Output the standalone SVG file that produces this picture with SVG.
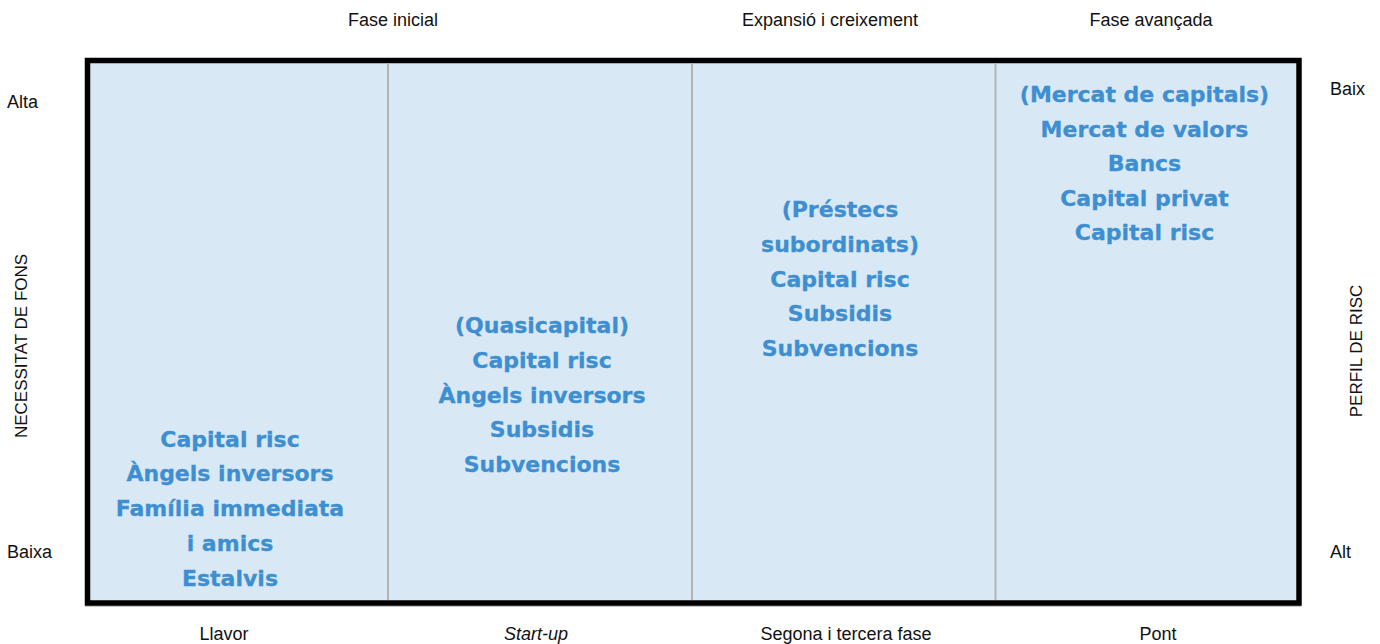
<svg xmlns="http://www.w3.org/2000/svg" width="1380" height="644" viewBox="0 0 1380 644">
<style>
.lbl{font-family:"Liberation Sans",Arial,sans-serif;font-size:18px;fill:#111}
.c{text-anchor:middle}
.b{font-family:"DejaVu Sans",sans-serif;font-weight:bold;font-size:22px;fill:#3d8fd1;stroke:#3d8fd1;stroke-width:0.3px;text-anchor:middle}
.div{stroke:#b4b4b4;stroke-width:2}
</style>
<rect width="1380" height="644" fill="#fff"/>
<g id="frame">
<rect x="86" y="61" width="1214" height="545" fill="none" stroke="#c8c8c8" stroke-width="2"/>
<rect x="87.5" y="60.5" width="1211.5" height="542.5" fill="#d9e8f5" stroke="#000" stroke-width="5.5"/>
</g>
<g id="dividers">
<line class="div" x1="388" y1="63" x2="388" y2="600"/>
<line class="div" x1="692" y1="63" x2="692" y2="600"/>
<line class="div" x1="995.5" y1="63" x2="995.5" y2="600"/>
</g>
<g id="top-labels">
<text class="lbl c" x="393" y="26">Fase inicial</text>
<text class="lbl c" x="830" y="26">Expansió i creixement</text>
<text class="lbl c" x="1151" y="26">Fase avançada</text>
</g>
<g id="bottom-labels">
<text class="lbl c" x="224" y="640">Llavor</text>
<text class="lbl c" x="536" y="640" font-style="italic">Start-up</text>
<text class="lbl c" x="846" y="640">Segona i tercera fase</text>
<text class="lbl c" x="1158" y="640">Pont</text>
</g>
<g id="side-labels">
<text class="lbl" x="7" y="108">Alta</text>
<text class="lbl" x="7" y="558">Baixa</text>
<text class="lbl" x="1330" y="95">Baix</text>
<text class="lbl" x="1330" y="558">Alt</text>
<text class="lbl c" transform="translate(26.5,346) rotate(-90)" style="font-size:17px">NECESSITAT DE FONS</text>
<text class="lbl c" transform="translate(1362,351) rotate(-90)" style="font-size:17px">PERFIL DE RISC</text>
</g>
<g id="col-llavor">
<text class="b" x="230" y="446.5">Capital risc</text>
<text class="b" x="230" y="481.3">Àngels inversors</text>
<text class="b" x="230" y="516">Família immediata</text>
<text class="b" x="230" y="550.7">i amics</text>
<text class="b" x="230" y="585.5">Estalvis</text>
</g>
<g id="col-startup">
<text class="b" x="542" y="333">(Quasicapital)</text>
<text class="b" x="542" y="367.8">Capital risc</text>
<text class="b" x="542" y="402.5">Àngels inversors</text>
<text class="b" x="542" y="437.2">Subsidis</text>
<text class="b" x="542" y="472">Subvencions</text>
</g>
<g id="col-segona">
<text class="b" x="840" y="217">(Préstecs</text>
<text class="b" x="840" y="251.8">subordinats)</text>
<text class="b" x="840" y="286.5">Capital risc</text>
<text class="b" x="840" y="321.2">Subsidis</text>
<text class="b" x="840" y="356">Subvencions</text>
</g>
<g id="col-pont">
<text class="b" x="1144.5" y="102">(Mercat de capitals)</text>
<text class="b" x="1144.5" y="136.5">Mercat de valors</text>
<text class="b" x="1144.5" y="171">Bancs</text>
<text class="b" x="1144.5" y="205.5">Capital privat</text>
<text class="b" x="1144.5" y="240">Capital risc</text>
</g>
</svg>
